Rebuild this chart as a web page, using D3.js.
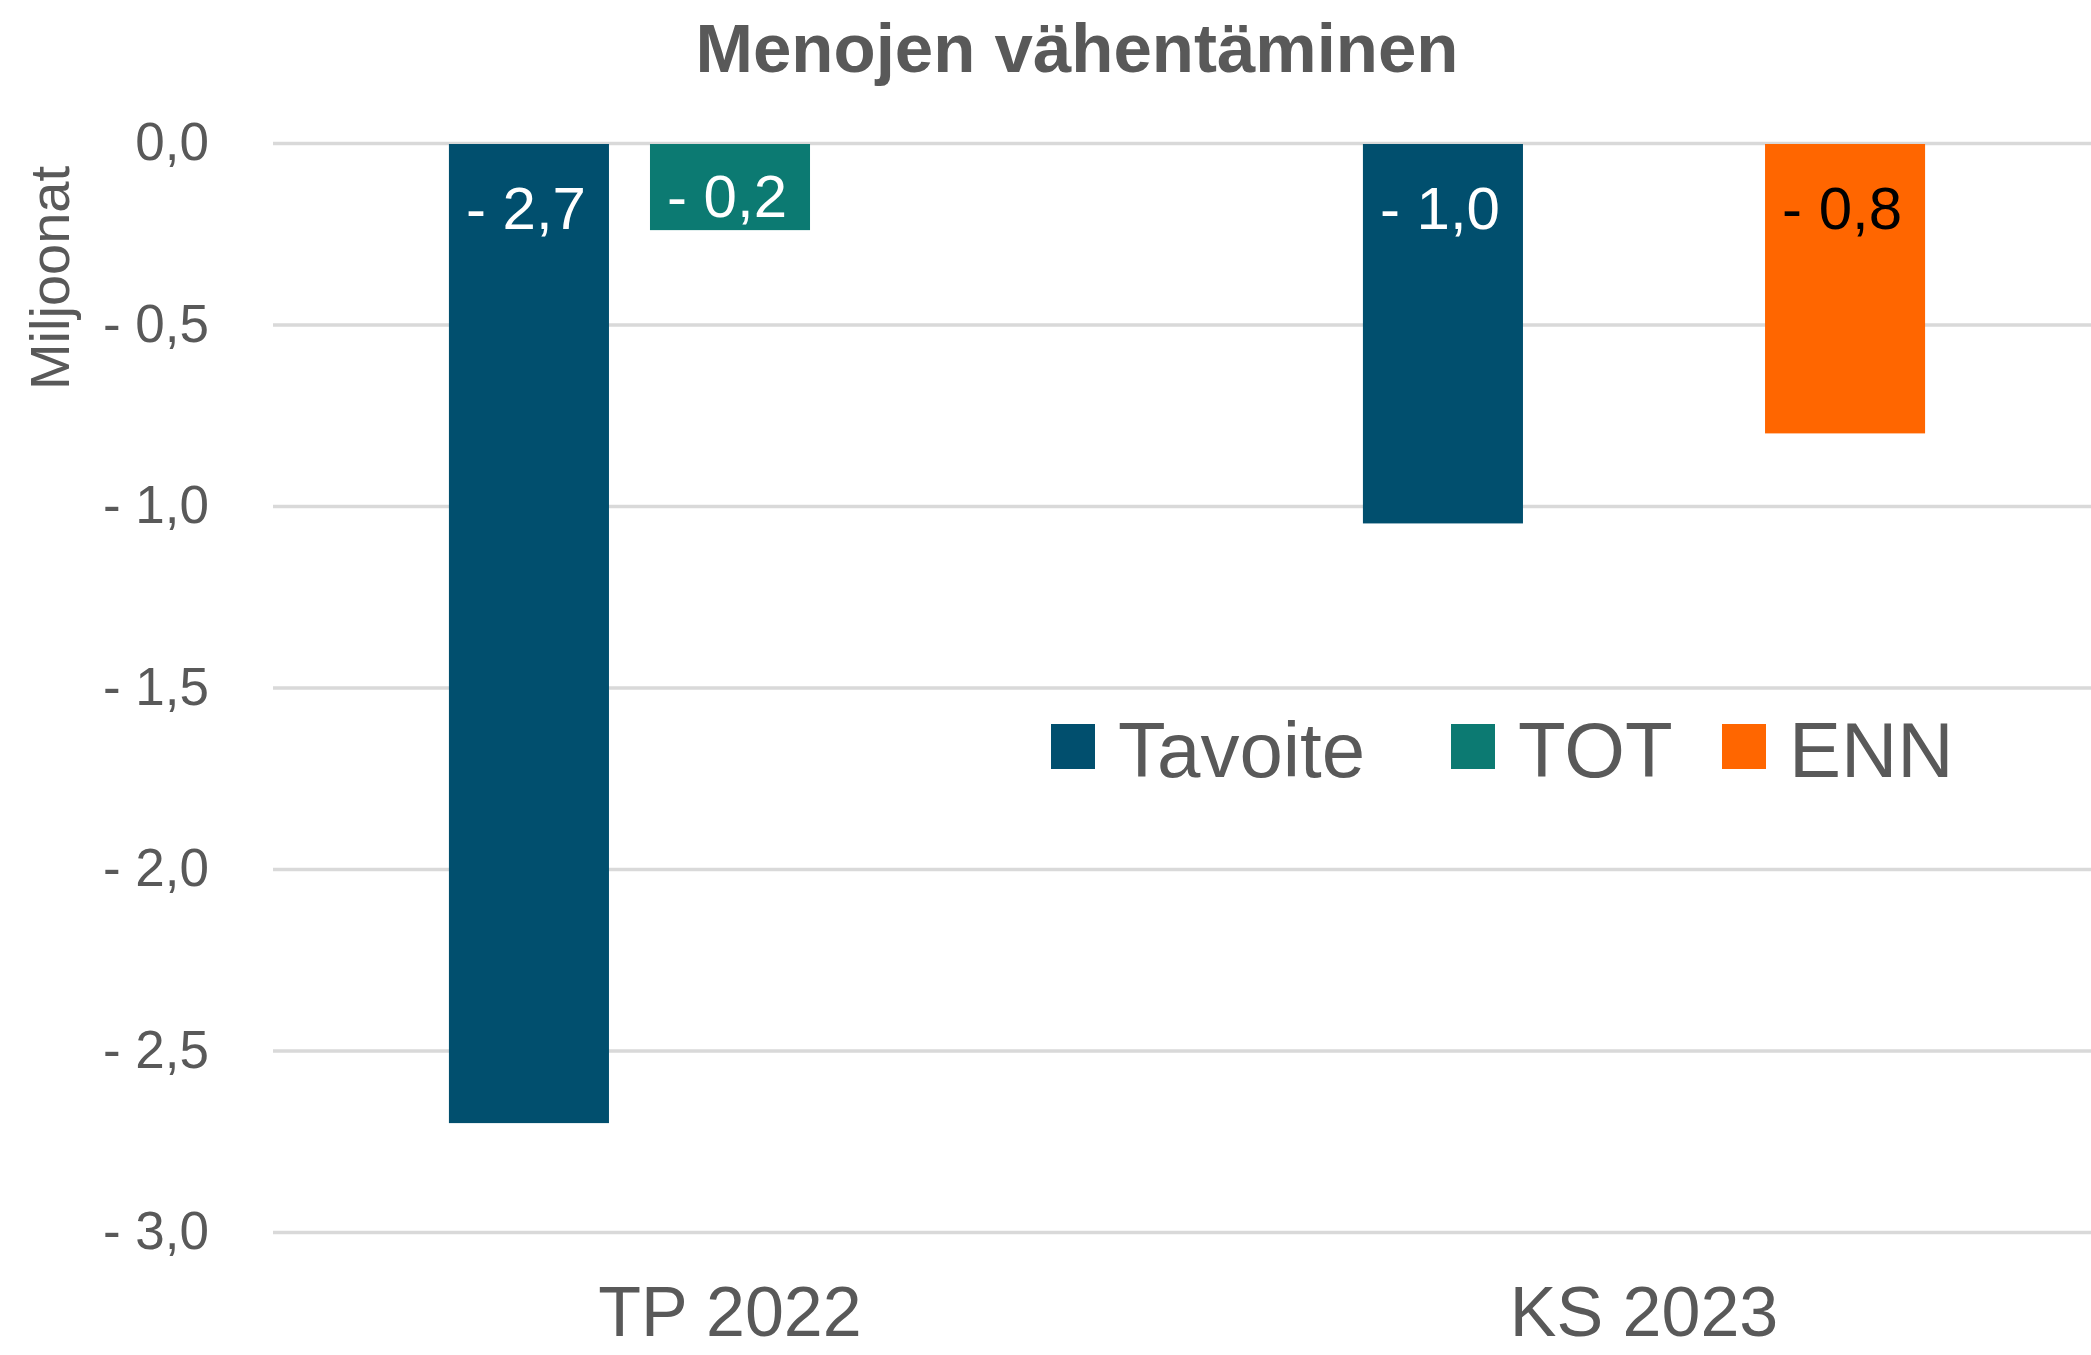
<!DOCTYPE html>
<html>
<head>
<meta charset="utf-8">
<script src="https://cdn.jsdelivr.net/npm/d3@7"></script>
<style>
  body { margin: 0; background: #fff; }
  text { font-family: "Liberation Sans", Arial, sans-serif; }
</style>
</head>
<body>
<div id="chart"></div>
<script>
const categories = ['TP 2022', 'KS 2023'];
const seriesNames = ['Tavoite', 'TOT', 'ENN'];
const tavoiteValues = [-2.7, -1.048];
const totValues = [-0.24, null];
const ennValues = [null, -0.8];
const yTicks = [0, -0.5, -1, -1.5, -2, -2.5, -3];
const colors = ['#014f6e', '#0c7a72', '#ff6600'];
const labelColors = ['#ffffff', '#ffffff', '#000000'];

const width = 2091;
const height = 1355;
const margin = {top: 143, right: -10, bottom: 123, left: 273};

const seriesValues = [tavoiteValues, totValues, ennValues];
const bars = [];
categories.forEach((cat, i) => {
    seriesNames.forEach((s, j) => {
        const v = seriesValues[j][i];
        if (v !== null) bars.push({category: cat, series: s, index: j, value: v});
    });
});

const fmt = v => {
    const s = d3.format('.1f')(Math.abs(v)).replace('.', ',');
    return v < -0.0001 ? '- ' + s : s;
};

const svg = d3.select('#chart')
  .append('svg')
    .attr('width', width)
    .attr('height', height)
    .attr('viewBox', [0, 0, width, height]);

const x0 = d3.scaleBand()
  .domain(categories)
  .range([margin.left, width - margin.right]);

const x1 = d3.scaleBand()
  .domain(seriesNames)
  .range([0, x0.bandwidth()])
  .paddingInner(0.204)
  .paddingOuter(0.875);

const y = d3.scaleLinear()
  .domain([-3, 0])
  .range([1232, margin.top]);

// gridlines + tick labels
const yAxis = svg.append('g')
    .attr('transform', `translate(${margin.left}, 0)`)
    .call(d3.axisLeft(y)
      .tickValues(yTicks)
      .tickFormat(fmt)
      .tickSize(-(width - margin.left))
      .tickPadding(64));
yAxis.select('.domain').remove();
yAxis.selectAll('line')
    .attr('stroke', '#d9d9d9')
    .attr('stroke-width', 3.5);
yAxis.selectAll('text')
    .attr('fill', '#595959')
    .style('font-size', '53px');

// bars
svg.append('g')
  .selectAll('rect')
  .data(bars)
  .join('rect')
    .attr('x', d => x0(d.category) + x1(d.series))
    .attr('y', d => y(0) + 1)
    .attr('width', x1.bandwidth())
    .attr('height', d => y(d.value) - y(0) - 1)
    .attr('fill', d => colors[d.index]);

// data labels
svg.append('g')
  .selectAll('text')
  .data(bars)
  .join('text')
    .attr('x', d => x0(d.category) + x1(d.series) + x1.bandwidth() / 2 - 3)
    .attr('y', d => Math.min(y(0) + 86, y(d.value) - 13))
    .attr('text-anchor', 'middle')
    .attr('fill', d => labelColors[d.index])
    .style('font-size', '60px')
    .text(d => fmt(d.value));

// category labels
const xAxis = svg.append('g')
    .attr('transform', `translate(0, ${y(-3)})`)
    .call(d3.axisBottom(x0).tickSize(0).tickPadding(54));
xAxis.select('.domain').remove();
xAxis.selectAll('text')
    .attr('fill', '#595959')
    .style('font-size', '70px');

// title
svg.append('text')
    .attr('x', 1077)
    .attr('y', 72)
    .attr('text-anchor', 'middle')
    .attr('fill', '#595959')
    .style('font-size', '69px')
    .style('font-weight', 'bold')
    .text('Menojen vähentäminen');

// y axis title
svg.append('text')
    .attr('transform', 'translate(69, 278) rotate(-90)')
    .attr('text-anchor', 'middle')
    .attr('fill', '#595959')
    .style('font-size', '56px')
    .text('Miljoonat');

// legend
const legendX = [1051, 1451, 1722];
const legend = svg.append('g').attr('class', 'legend')
  .selectAll('g')
  .data(seriesNames)
  .join('g')
    .attr('transform', (d, i) => `translate(${legendX[i]}, 0)`);
legend.append('rect')
    .attr('y', 724)
    .attr('width', 44)
    .attr('height', 45)
    .attr('fill', (d, i) => colors[i]);
legend.append('text')
    .attr('x', 67)
    .attr('y', 777)
    .attr('fill', '#595959')
    .style('font-size', '78px')
    .text(d => d);
</script>
</body>
</html>
